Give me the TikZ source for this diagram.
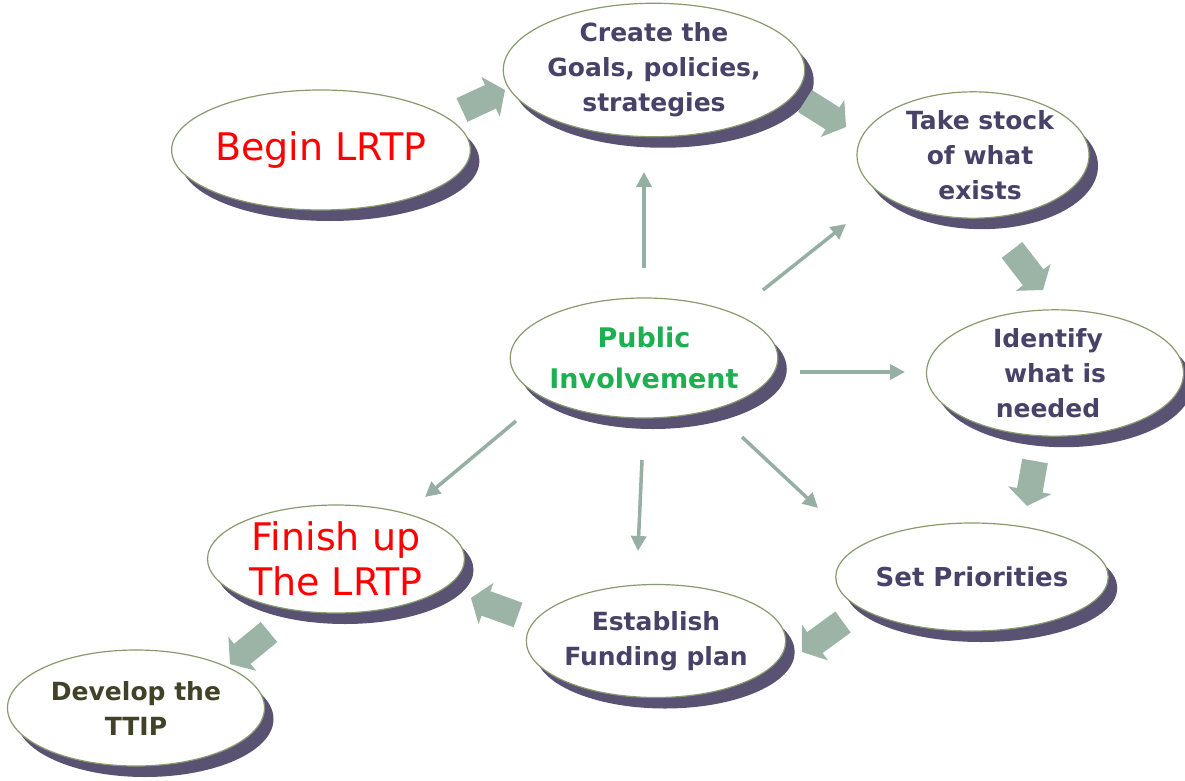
\documentclass[tikz,border=0pt]{standalone}
\usepackage{fontspec}
\setmainfont{DejaVu Sans}
\usetikzlibrary{shapes.geometric,shadows,arrows.meta,calc}
\definecolor{txt}{RGB}{72,66,104}
\definecolor{olv}{RGB}{66,66,40}
\definecolor{grn}{RGB}{30,175,80}
\definecolor{shc}{RGB}{90,82,115}
\definecolor{blk}{RGB}{155,180,165}
\definecolor{thn}{RGB}{150,175,165}
\definecolor{edgec}{RGB}{135,155,110}
\newcommand\blockarr[2]{%
  \coordinate (hb) at ($(#2)!16pt!(#1)$);
  \fill[blk] ($(#1)!13pt!90:(#2)$) -- ($(hb)!13pt!90:(#2)$) -- ($(hb)!22pt!90:(#2)$) -- (#2)
    -- ($(hb)!22pt!-90:(#2)$) -- ($(hb)!13pt!-90:(#2)$) -- ($(#1)!13pt!-90:(#2)$) -- cycle;}
\begin{document}
\begin{tikzpicture}[x=1pt,y=-1pt,
  oval/.style={ellipse, draw=edgec, line width=1.2pt, fill=white,
    minimum width=257pt, minimum height=116pt, inner sep=0pt, align=center,
    drop shadow={shadow xshift=9pt, shadow yshift=-11pt, fill=shc, opacity=1}},
  small/.style={font=\bfseries\fontsize{25}{35}\selectfont, text=txt},
  big/.style={font=\fontsize{38}{45}\selectfont, text=red},
  thin/.style={draw=thn, line width=3.5pt, -{Triangle[length=15pt,width=15pt]}}]
\useasboundingbox[fill=white] (0,0) rectangle (1185,781);

% ellipses
\node[oval, big, minimum height=120pt] (begin) at (321,150) {Begin LRTP};
\node[oval, small] (create) at (654,70) {Create the\\Goals, policies,\\strategies};
\node[oval, small, minimum width=232pt] (take) at (973,155) {\hspace*{14pt}Take stock\\\hspace*{14pt}of what\\\hspace*{14pt}exists};
\node[oval, small] (ident) at (1055,373) {Identify\hspace*{14pt}\\what is\hspace*{14pt}\\needed\hspace*{14pt}};
\node[oval, small, font=\bfseries\fontsize{26}{35}\selectfont, minimum height=108pt] (set) at (972,577) {Set Priorities};
\node[oval, small, minimum height=113pt] (estab) at (656,641) {Establish\\Funding plan};
\node[oval, big, minimum height=108pt] (finish) at (336,559) {Finish up\\The LRTP};
\node[oval, small, text=olv] (develop) at (136,708) {Develop the\\TTIP};
\node[oval, minimum height=120pt, font=\bfseries\fontsize{27}{41}\selectfont, text=grn] (pub) at (644,358) {Public\\Involvement};

% thin arrows from Public Involvement
\coordinate (t1s) at (644,268); \coordinate (t1e) at (644,172);
\coordinate (t2s) at (763,290); \coordinate (t2e) at (846,224);
\coordinate (t3s) at (800,372); \coordinate (t3e) at (905,372);
\coordinate (t4s) at (742,437); \coordinate (t4e) at (818,508);
\coordinate (t5s) at (642,460); \coordinate (t5e) at (638,551);
\coordinate (t6s) at (516,421); \coordinate (t6e) at (425,497);
\draw[thin] (t1s) -- (t1e);
\draw[thin] (t2s) -- (t2e);
\draw[thin] (t3s) -- (t3e);
\draw[thin] (t4s) -- (t4e);
\draw[thin] (t5s) -- (t5e);
\draw[thin] (t6s) -- (t6e);

% block arrows along the cycle
\coordinate (b1s) at (462,110); \coordinate (b1e) at (505,90);
\coordinate (b2s) at (805,101); \coordinate (b2e) at (846,127);
\coordinate (b3s) at (1012,250); \coordinate (b3e) at (1043,290);
\coordinate (b4s) at (1035,461); \coordinate (b4e) at (1027,506);
\coordinate (b5s) at (843,622); \coordinate (b5e) at (802,652);
\coordinate (b6s) at (518,615); \coordinate (b6e) at (471,598);
\coordinate (b7s) at (269,632); \coordinate (b7e) at (230,664);
\blockarr{b1s}{b1e}
\blockarr{b2s}{b2e}
\blockarr{b3s}{b3e}
\blockarr{b4s}{b4e}
\blockarr{b5s}{b5e}
\blockarr{b6s}{b6e}
\blockarr{b7s}{b7e}
\end{tikzpicture}
\end{document}
